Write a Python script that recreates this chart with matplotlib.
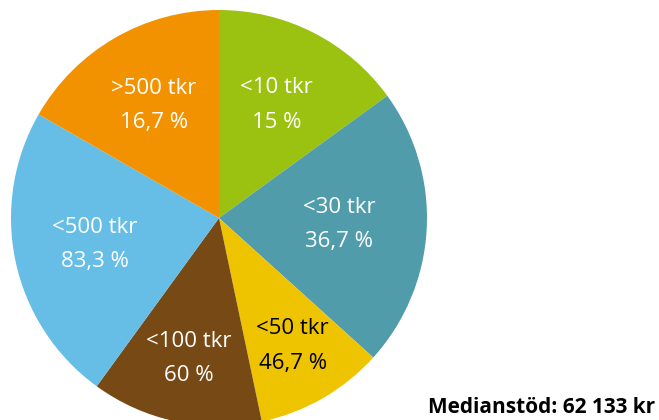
import matplotlib
matplotlib.use("Agg")
import matplotlib.pyplot as plt
import numpy as np

categories = ["<10 tkr", "<30 tkr", "<50 tkr", "<100 tkr", "<500 tkr", ">500 tkr"]
shares = [15.0, 21.7, 10.0, 13.3, 23.3, 16.7]
cum_labels = ["15 %", "36,7 %", "46,7 %", "60 %", "83,3 %", "16,7 %"]
colors = ["#9BC111", "#519CAB", "#EEC300", "#774914", "#66BDE6", "#F39200"]
text_colors = ["white", "white", "black", "white", "white", "white"]
label_r = [0.61, 0.58, 0.71, 0.69, 0.61, 0.625]
note = "Medianstöd: 62 133 kr"

plt.rcParams['font.family'] = ['Open Sans', 'DejaVu Sans']

W, H = 659, 420
fig = plt.figure(figsize=(W / 100, H / 100), dpi=100)
cx, cy, R = 219, 218, 208
ax = fig.add_axes([(cx - R) / W, (H - cy - R) / H, 2 * R / W, 2 * R / H])
wedges, _ = ax.pie(shares, colors=colors, startangle=90, counterclock=False,
                   radius=1.0, wedgeprops=dict(linewidth=0))
ax.set_xlim(-1, 1)
ax.set_ylim(-1, 1)
ax.set_aspect('equal')
ax.axis('off')

for w, cat, lab, tc, r in zip(wedges, categories, cum_labels, text_colors, label_r):
    ang = np.deg2rad((w.theta1 + w.theta2) / 2)
    x, y = r * np.cos(ang), r * np.sin(ang)
    ax.text(x, y + 0.083, cat, ha='center', va='center', color=tc, fontsize=16)
    ax.text(x, y - 0.083, lab, ha='center', va='center', color=tc, fontsize=16)

fig.text(655 / W, 1 - 413 / H, note, ha='right', va='baseline',
         fontsize=15, fontweight='bold', color='black')

fig.savefig("out.png", dpi=100)
